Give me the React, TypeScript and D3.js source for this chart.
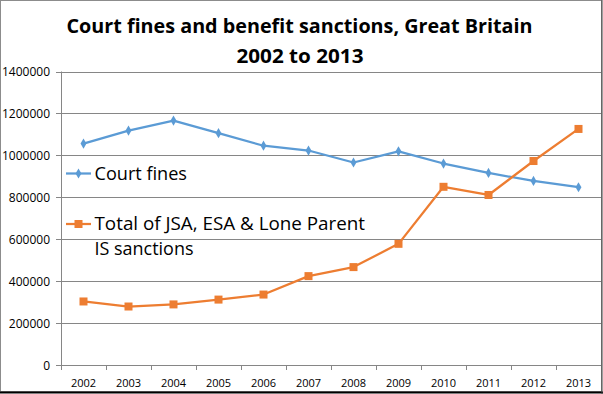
import * as d3 from 'd3'

const years = ['2002', '2003', '2004', '2005', '2006', '2007', '2008', '2009', '2010', '2011', '2012', '2013']
const courtFines = [1056000, 1118000, 1166000, 1106000, 1046000, 1023000, 966000, 1019000, 961000, 916000, 878000, 848000]
const sanctions = [303000, 279000, 289000, 312000, 336000, 424000, 467000, 578000, 850000, 811000, 973000, 1126000]
const yTicks = [0, 200000, 400000, 600000, 800000, 1000000, 1200000, 1400000]

const BLUE = '#5b9bd5'
const ORANGE = '#ed7d31'
const GRID = '#868686'
const FONT = 'Open Sans, Noto Sans, sans-serif'

export default function App() {
  const width = 603
  const height = 394
  const left = 61
  const right = 601
  const top = 71.5
  const bottom = 365

  const x = d3.scaleBand().domain(years).range([left, right])
  const y = d3.scaleLinear().domain([0, 1400000]).range([bottom, top])
  const cx = (yr: string) => (x(yr) ?? 0) + x.bandwidth() / 2

  const line = d3.line<number>()
    .x((_, i) => cx(years[i]))
    .y(d => y(d))

  const xEdges = [...years.map(yr => x(yr) ?? 0), right]
  const diamond = d3.symbol(d3.symbolDiamond, 30)() ?? undefined

  return (
    <svg width={width} height={height} style={{position: 'absolute', left: 0, top: 0}} fontFamily={FONT}>
      <rect x={0} y={0} width={width} height={height} fill="#fff" />

      <g fontWeight={700} fill="#000" textAnchor="middle" fontSize={20}>
        <text x={299.5} y={32.5} textLength={466} lengthAdjust="spacingAndGlyphs">
          Court fines and benefit sanctions, Great Britain
        </text>
        <text x={300} y={63} textLength={127} lengthAdjust="spacingAndGlyphs">2002 to 2013</text>
      </g>

      {yTicks.slice(1).map(t => (
        <line key={t} x1={left} x2={right} y1={Math.round(y(t)) + 0.5} y2={Math.round(y(t)) + 0.5} stroke={GRID} />
      ))}
      <line x1={left + 0.5} x2={left + 0.5} y1={top} y2={bottom} stroke={GRID} />
      <line x1={left} x2={right} y1={bottom + 0.5} y2={bottom + 0.5} stroke={GRID} />

      <g fontSize={12} fill="#000" textAnchor="end">
        {yTicks.map(t => (
          <g key={t}>
            <line x1={left - 5} x2={left} y1={Math.round(y(t)) + 0.5} y2={Math.round(y(t)) + 0.5} stroke={GRID} />
            <text x={50} y={y(t) + 4.5}>{t}</text>
          </g>
        ))}
      </g>

      {xEdges.map((e, i) => (
        <line key={i} x1={Math.round(e) + 0.5} x2={Math.round(e) + 0.5} y1={bottom} y2={bottom + 5} stroke={GRID} />
      ))}
      <g fontSize={11} fill="#000" textAnchor="middle">
        {years.map(yr => (
          <text key={yr} x={cx(yr)} y={386.5}>{yr}</text>
        ))}
      </g>

      <path d={line(courtFines) ?? undefined} fill="none" stroke={BLUE} strokeWidth={2.25} strokeLinejoin="round" />
      {courtFines.map((v, i) => (
        <path key={i} d={diamond} transform={`translate(${cx(years[i])},${y(v)})`} fill={BLUE} />
      ))}

      <path d={line(sanctions) ?? undefined} fill="none" stroke={ORANGE} strokeWidth={2.25} strokeLinejoin="round" />
      {sanctions.map((v, i) => (
        <rect key={i} x={cx(years[i]) - 4} y={y(v) - 4} width={8} height={8} fill={ORANGE} />
      ))}

      <g fontSize={19} fill="#000">
        <line x1={66} x2={91} y1={173.5} y2={173.5} stroke={BLUE} strokeWidth={2.25} />
        <path d={diamond} transform="translate(78.5,173.5)" fill={BLUE} />
        <text x={94.5} y={180} textLength={92.5} lengthAdjust="spacingAndGlyphs">Court fines</text>

        <line x1={66} x2={91} y1={224} y2={224} stroke={ORANGE} strokeWidth={2.25} />
        <rect x={74.5} y={220} width={8} height={8} fill={ORANGE} />
        <text x={94.5} y={230} textLength={270.5} lengthAdjust="spacingAndGlyphs">Total of JSA, ESA &amp; Lone Parent</text>
        <text x={94.5} y={255} textLength={99} lengthAdjust="spacingAndGlyphs">IS sanctions</text>
      </g>

      <rect x={0.5} y={0.5} width={601} height={391} fill="none" stroke="#8c8c8c" />
      <line x1={0} x2={603} y1={392.5} y2={392.5} stroke="#000" strokeWidth={2} />
      <line x1={602} x2={602} y1={0} y2={394} stroke="#404040" strokeWidth={1} />
    </svg>
  )
}
